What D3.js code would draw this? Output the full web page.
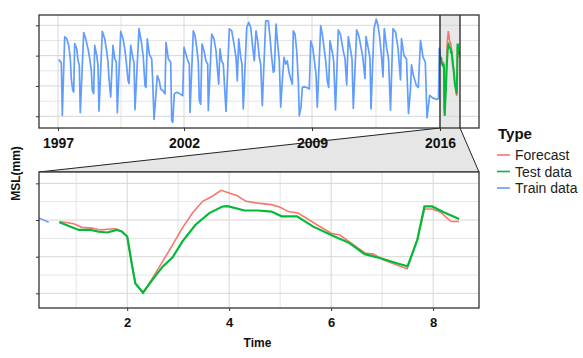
<!DOCTYPE html>
<html><head><meta charset="utf-8">
<script src="https://cdn.jsdelivr.net/npm/d3@7/dist/d3.min.js"></script>
<style>body{margin:0;background:#fff;} svg{display:block;font-family:"Liberation Sans",Arial,sans-serif;}</style>
</head><body><svg id="chart" width="583" height="358"></svg>
<script>
// ---- data ----
// training series: position index along the top (overview) axis, and value
const trainIdx = [0.7,3.3,4.3,6.7,8.7,10.7,12.3,13.3,14.7,15.7,16.7,18.7,20,21.3,22.3,25.7,27.7,30,31.7,33.3,34.3,35.7,36.7,38.7,40,41,44.3,46.7,48.3,50,51,52.7,55,56.7,58.3,59.3,62.7,65,66.7,68.3,70,71,72.7,75,76,77,81,83.7,85.3,87,88,89.3,91.3,93.7,94.7,96,97.7,99.3,101.3,102.7,104.7,107,108,110.3,112.7,113.7,114.7,116.3,118.7,122,124.7,126,127,129.3,131.3,132,135.3,137,138.7,140.3,141.3,142.7,144,146,148,149.7,150.3,153.7,156,158,159.3,160.7,162,163.7,165.3,168,171.3,173.7,176,178,179.3,180.7,182.7,184,185.3,188.7,190.7,192.7,194.7,196.3,198,199.7,201.3,202.7,204.3,207.7,210.3,212,213.7,215.3,216.3,218,219.7,221.3,222.7,224.3,226,227.7,229.3,231,232.7,234.3,235.3,237,238.7,240.3,241.3,243,244.3,246,248.7,251.3,252.7,254.7,256,258,259.3,262.7,264.3,266,267.7,269.3,270.7,272,274.7,275.7,277.5,280.3,282.5,285,287,288.7,290.3,292.5,294,295.3,298.7,301,304.7,307,308,310.5,312,313,316,318.3,320,321.7,323.7,325,326.3,328.5,330.5,332.5,335,337.5,340,342.5,343.5,346,348.5,350.5,352.5,353.5,355,358.3,360.3,362.5,365,367.3,369,371.7,375,378.3,380.5,381.3,382.44];
const trainValues = [1.87,1.77,0.03,2.62,2.56,2.34,1.90,1.24,0.86,0.80,2.40,2.23,1.85,1.68,0.12,2.76,2.56,2.23,1.90,1.52,0.86,0.75,2.34,2.01,1.68,0.17,2.80,2.56,2.23,1.79,1.24,0.64,2.34,1.90,1.79,0.12,2.80,2.56,2.23,1.79,1.19,1.08,2.34,1.90,1.79,0.22,2.89,2.38,1.94,1.01,0.95,2.55,2.05,1.89,1.17,-0.10,0.63,1.34,1.17,0.90,0.85,0.74,2.44,1.89,1.78,-0.14,-0.20,0.74,0.79,0.74,0.68,2.27,2.16,1.89,1.72,0.13,2.82,2.66,2.27,1.78,0.52,0.40,2.38,2.16,1.83,1.72,0.19,2.71,2.55,2.16,1.61,1.06,2.22,1.83,1.72,0.16,2.88,2.82,2.38,1.94,1.17,2.55,1.94,1.72,0.24,2.93,3.10,2.93,2.27,1.83,2.82,2.49,1.94,1.72,0.35,3.15,3.15,2.60,1.94,1.45,1.50,3.04,2.38,1.83,0.30,1.17,1.94,1.72,1.83,1.45,1.23,1.06,2.82,2.71,2.16,1.17,0.02,0.30,0.95,0.97,0.95,0.90,2.49,2.27,1.94,1.39,0.30,2.99,2.71,2.27,1.83,1.17,0.95,2.49,2.05,1.80,0.21,2.85,2.70,2.20,1.90,1.03,2.63,2.20,1.90,0.26,2.85,2.63,1.97,1.25,2.63,2.20,1.90,0.24,2.90,3.20,3.00,2.60,1.90,1.30,2.89,2.30,1.90,0.20,2.89,2.78,2.25,1.20,2.56,2.00,1.90,0.09,0.91,1.70,1.40,1.02,0.95,2.50,1.95,1.79,-0.05,0.69,0.60,0.56,0.58,2.24,1.94];

// test and forecast series on the zoomed "Time" axis
const testTime = [0.67,1.05,1.28,1.44,1.61,1.80,1.89,2.0,2.10,2.16,2.31,2.49,2.69,2.89,3.08,3.34,3.61,3.87,3.97,4.30,4.56,4.83,5.03,5.33,5.65,6.0,6.36,6.66,6.99,7.29,7.50,7.69,7.83,7.98,8.21,8.51];
const testValues = [1.94,1.73,1.73,1.68,1.66,1.73,1.69,1.55,0.72,0.27,0.02,0.36,0.72,0.98,1.41,1.87,2.19,2.37,2.38,2.26,2.26,2.23,2.10,2.10,1.82,1.59,1.37,1.07,0.95,0.82,0.74,1.46,2.37,2.37,2.21,2.03];
const forecastTime = [0.67,0.95,1.11,1.31,1.47,1.77,1.90,2.0,2.10,2.16,2.31,2.49,2.69,2.89,3.08,3.28,3.48,3.67,3.84,4.0,4.16,4.33,4.56,4.83,5.0,5.16,5.35,5.72,6.0,6.17,6.36,6.66,6.83,7.03,7.29,7.49,7.69,7.83,7.98,8.15,8.35,8.51];
const forecastValues = [1.96,1.90,1.80,1.78,1.73,1.76,1.69,1.55,0.72,0.27,0.02,0.40,0.86,1.32,1.78,2.19,2.51,2.65,2.81,2.74,2.66,2.51,2.46,2.42,2.35,2.23,2.19,1.87,1.64,1.59,1.40,1.10,1.07,0.91,0.77,0.67,1.46,2.30,2.30,2.21,1.96,1.96];

// axes
const topTickIdx = [0,126,254,382];
const topTickLabels = ["1997","2002","2009","2016"];
const topMinorIdx = [63,190,318];
const timeTicks = [2,4,6,8];
const timeMinor = [1,3,5,7];
const yTicks = [0,1,2,3];
const yMinor = [0.5,1.5,2.5];
const zoomTime = [0.27,8.9];   // x-range of the zoom panel
const zoomIdx = [382,402];     // same range on the overview axis
const legendTypes = ["Forecast","Test data","Train data"];
const legendColors = ["#F8766D","#00BA38","#619CFF"];

// ---- layout ----
const svg = d3.select("#chart");
const L = 39, R = 479;
const topP = {t:15, b:128}, botP = {t:172, b:308};

const xTop = d3.scaleLinear().domain([-19,421]).range([L,R]);
const xBot = d3.scaleLinear().domain(zoomTime).range([L,R]);
const yTop = d3.scaleLinear().domain([-0.386,3.34]).range([topP.b,topP.t]);
const yBot = d3.scaleLinear().domain([-0.40,3.31]).range([botP.b,botP.t]);
const timeToIdx = d3.scaleLinear().domain(zoomTime).range(zoomIdx);

const color = d3.scaleOrdinal().domain(legendTypes).range(legendColors);

const train = trainIdx.map((d,i)=>({idx:d, t:timeToIdx.invert(d), v:trainValues[i]}));
const test = testTime.map((d,i)=>({idx:timeToIdx(d), t:d, v:testValues[i]}));
const fc = forecastTime.map((d,i)=>({idx:timeToIdx(d), t:d, v:forecastValues[i]}));

const defs = svg.append("defs");
defs.append("clipPath").attr("id","clipTop").append("rect").attr("x",L).attr("y",topP.t).attr("width",R-L).attr("height",topP.b-topP.t);
defs.append("clipPath").attr("id","clipBot").append("rect").attr("x",L).attr("y",botP.t).attr("width",R-L).attr("height",botP.b-botP.t);

// zoom connector polygon
svg.append("path")
  .attr("d", d3.line()([[xTop(zoomIdx[0]),topP.b],[L,botP.t],[R,botP.t],[xTop(zoomIdx[1]),topP.b]]))
  .attr("fill","#e6e6e6").attr("stroke","#222").attr("stroke-width",1);

function panel(P){
  const g = svg.append("g");
  g.append("rect").attr("x",L).attr("y",P.t).attr("width",R-L).attr("height",P.b-P.t).attr("fill","#fff");
  return g;
}
function grid(g, x, y, P, xMaj, xMin){
  g.selectAll(null).data(yMinor).join("line").attr("x1",L).attr("x2",R).attr("y1",d=>y(d)).attr("y2",d=>y(d)).attr("stroke","#e2e2e2").attr("stroke-width",0.9);
  g.selectAll(null).data(xMin).join("line").attr("y1",P.t).attr("y2",P.b).attr("x1",d=>x(d)).attr("x2",d=>x(d)).attr("stroke","#e2e2e2").attr("stroke-width",0.9);
  g.selectAll(null).data(yTicks).join("line").attr("x1",L).attr("x2",R).attr("y1",d=>y(d)).attr("y2",d=>y(d)).attr("stroke","#d6d6d6").attr("stroke-width",1);
  g.selectAll(null).data(xMaj).join("line").attr("y1",P.t).attr("y2",P.b).attr("x1",d=>x(d)).attr("x2",d=>x(d)).attr("stroke","#d6d6d6").attr("stroke-width",1);
}

// ---- top panel ----
const gT = panel(topP);
gT.append("rect")
  .attr("x",xTop(zoomIdx[0])).attr("y",topP.t).attr("width",xTop(zoomIdx[1])-xTop(zoomIdx[0])).attr("height",topP.b-topP.t)
  .attr("fill","#e8e8e8");
grid(gT, xTop, yTop, topP, topTickIdx, topMinorIdx);

const lineTop = d3.line().x(d=>xTop(d.idx)).y(d=>yTop(d.v));
const lineBot = d3.line().x(d=>xBot(d.t)).y(d=>yBot(d.v));
const cT = gT.append("g").attr("clip-path","url(#clipTop)");
cT.append("path").datum(fc).attr("d",lineTop).attr("fill","none").attr("stroke",color("Forecast")).attr("stroke-width",1.6);
cT.append("path").datum(test).attr("d",lineTop).attr("fill","none").attr("stroke",color("Test data")).attr("stroke-width",2);
cT.append("path").datum(train).attr("d",lineTop).attr("fill","none").attr("stroke",color("Train data")).attr("stroke-width",1.7).attr("stroke-linejoin","round");
gT.selectAll(null).data(zoomIdx).join("line").attr("x1",d=>xTop(d)).attr("x2",d=>xTop(d)).attr("y1",topP.t).attr("y2",topP.b).attr("stroke","#111").attr("stroke-width",1.2);
gT.append("rect").attr("x",L).attr("y",topP.t).attr("width",R-L).attr("height",topP.b-topP.t).attr("fill","none").attr("stroke","#333").attr("stroke-width",1.3);

// ---- bottom panel ----
const gB = panel(botP);
grid(gB, xBot, yBot, botP, timeTicks, timeMinor);
const cB = gB.append("g").attr("clip-path","url(#clipBot)");
cB.append("path").datum(fc).attr("d",lineBot).attr("fill","none").attr("stroke",color("Forecast")).attr("stroke-width",1.6);
cB.append("path").datum(test).attr("d",lineBot).attr("fill","none").attr("stroke",color("Test data")).attr("stroke-width",2.2);
cB.append("path").datum(train).attr("d",lineBot).attr("fill","none").attr("stroke",color("Train data")).attr("stroke-width",1.5);
gB.append("rect").attr("x",L).attr("y",botP.t).attr("width",R-L).attr("height",botP.b-botP.t).attr("fill","none").attr("stroke","#333").attr("stroke-width",1.3);

// ---- axes ----
function styleAxis(g, fs){
  g.select(".domain").remove();
  g.selectAll(".tick line").attr("stroke","#333");
  g.selectAll(".tick text").attr("fill","#111").attr("font-size",fs).attr("font-weight","bold").attr("font-family","'Liberation Sans',Arial,sans-serif");
}
const axT = svg.append("g").attr("transform",`translate(0,${topP.b})`)
  .call(d3.axisBottom(xTop).tickValues(topTickIdx).tickFormat((d,i)=>topTickLabels[i]).tickSize(3).tickPadding(7));
styleAxis(axT, 14);
const axB = svg.append("g").attr("transform",`translate(0,${botP.b})`)
  .call(d3.axisBottom(xBot).tickValues(timeTicks).tickFormat(d3.format("d")).tickSize(3).tickPadding(7));
styleAxis(axB, 13);
const ayT = svg.append("g").attr("transform",`translate(${L},0)`).call(d3.axisLeft(yTop).tickValues(yTicks).tickFormat("").tickSize(3));
styleAxis(ayT, 10);
const ayB = svg.append("g").attr("transform",`translate(${L},0)`).call(d3.axisLeft(yBot).tickValues(yTicks).tickFormat("").tickSize(3));
styleAxis(ayB, 10);

// axis titles
svg.append("text").attr("x",257.5).attr("y",347).attr("text-anchor","middle").attr("font-size",12).attr("font-weight","bold").attr("fill","#111").text("Time");
svg.append("text").attr("transform","translate(20,173.5) rotate(-90)").attr("text-anchor","middle").attr("font-size",12).attr("font-weight","bold").attr("fill","#111").text("MSL(mm)");

// ---- legend ----
const lg = svg.append("g");
lg.append("text").attr("x",498).attr("y",139).attr("font-size",15).attr("font-weight","bold").attr("fill","#111").text("Type");
const items = lg.selectAll(null).data(legendTypes).join("g").attr("transform",(d,i)=>`translate(497,${155+i*16.5})`);
items.append("line").attr("x1",0).attr("x2",13).attr("y1",0).attr("y2",0).attr("stroke",d=>color(d)).attr("stroke-width",1.6);
items.append("text").attr("x",18).attr("y",5).attr("font-size",14).attr("fill","#222").text(d=>d);
</script></body></html>
